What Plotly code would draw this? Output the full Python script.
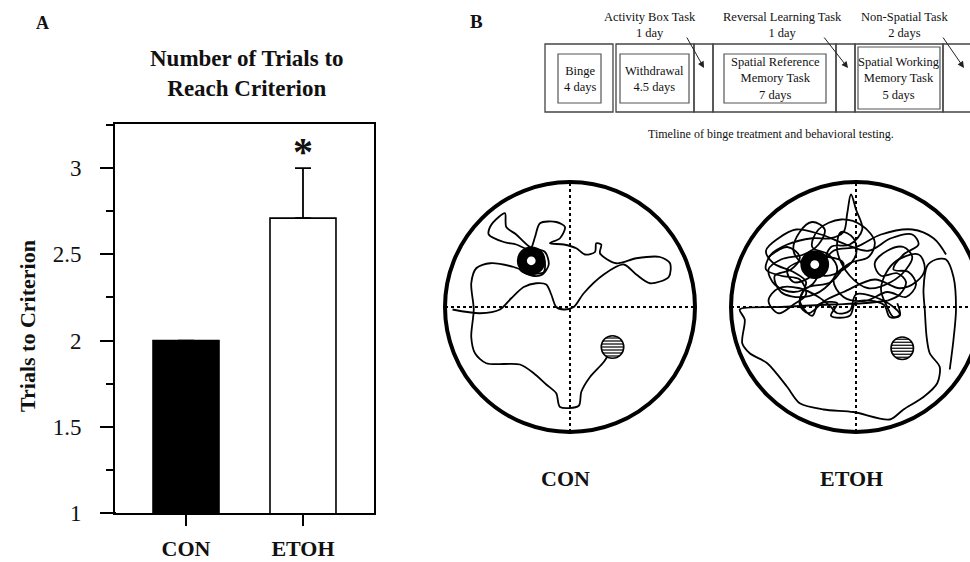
import math
import plotly.graph_objects as go

W, H = 970, 562          # reference picture size (pixel space used below)
SERIF = "Liberation Serif"
INK = "#111111"


def dx(px):
    return px / W


def dy(py):
    return (H - py) / H


# ---------------- Panel A data ----------------
groups = ["CON", "ETOH"]
trials = [2.0, 2.71]
sem_up = [0.0, 0.29]
y_ticks = [1, 1.5, 2, 2.5, 3]
y_tick_text = ["1", "1.5", "2", "2.5", "3"]

# ---------------- Panel B: timeline ----------------
tl_outer_x0 = [545, 616, 694, 713, 836, 855, 943]
tl_outer_x1 = [613, 694, 713, 836, 855, 943, 1000]
tl_inner_x0 = [558, 620, 724, 858]
tl_inner_x1 = [601, 689, 826, 940]
tl_inner_text = ["Binge<br>4 days", "Withdrawal<br>4.5 days",
                 "Spatial Reference<br>Memory Task<br>7 days",
                 "Spatial Working<br>Memory Task<br>5 days"]
tl_top_text = ["Activity Box Task<br>1 day", "Reversal Learning Task<br>1 day",
               "Non-Spatial Task<br>2 days"]
tl_top_x = [650, 782, 904]
arrow_tail_x = [686, 823, 942]
arrow_head_x = [704, 848, 964]

# ---------------- Panel B: swim paths (pool units, radius = 1) ----------------
con_path_u = [-0.94, -0.72, -0.56, -0.47, -0.37, -0.27, -0.19, -0.15, -0.11, -0.05, 0.03, 0.11,
              0.27, 0.43, 0.53, 0.64, 0.79, 0.80, 0.72, 0.53, 0.37, 0.24, 0.25, 0.21, 0.20,
              0.12, 0.05, -0.05, -0.16, -0.08, -0.04, -0.11, -0.24, -0.28, -0.32, -0.43,
              -0.53, -0.65, -0.64, -0.57, -0.52, -0.51, -0.43, -0.32, -0.20, -0.17, -0.22,
              -0.30, -0.40, -0.21, -0.21, -0.32, -0.45, -0.64, -0.75, -0.79, -0.77, -0.79,
              -0.76, -0.67, -0.40, -0.29, -0.19, -0.11, -0.08, 0.07, 0.09, 0.16, 0.27, 0.32]
con_path_v = [-0.02, -0.05, -0.02, 0.07, 0.16, 0.19, 0.18, 0.10, 0.00, -0.02, 0.00, 0.11,
              0.26, 0.34, 0.26, 0.19, 0.24, 0.35, 0.40, 0.39, 0.35, 0.43, 0.50, 0.51, 0.44,
              0.42, 0.47, 0.50, 0.51, 0.55, 0.64, 0.68, 0.67, 0.56, 0.46, 0.50,
              0.52, 0.58, 0.64, 0.72, 0.75, 0.64, 0.58, 0.48, 0.44, 0.34, 0.26,
              0.25, 0.30, 0.38, 0.28, 0.27, 0.32, 0.35, 0.31, 0.19, -0.02, -0.24,
              -0.37, -0.45, -0.46, -0.53, -0.62, -0.69, -0.80, -0.79, -0.68, -0.56, -0.44, -0.36]

etoh_outer_u = [0.75, 0.78, 0.80, 0.78, 0.72, 0.64, 0.57, 0.54, 0.55, 0.565, 0.59, 0.67, 0.65,
                0.54, 0.38, 0.27, -0.02, -0.26, -0.45, -0.55, -0.71, -0.85, -0.91, -0.89,
                -0.93, -0.60, -0.20, 0.05, 0.25]
etoh_outer_v = [-0.50, -0.26, -0.02, 0.24, 0.38, 0.38, 0.33, 0.14, -0.02, -0.24, -0.37, -0.48,
                -0.61, -0.72, -0.82, -0.90, -0.84, -0.82, -0.77, -0.64, -0.45, -0.37, -0.29,
                -0.10, -0.02, 0.00, 0.02, 0.03, 0.05]
etoh_tangle_u = [0.25, 0.35, 0.40, 0.33, 0.20, 0.15, 0.25, 0.38, 0.45, 0.40, 0.28, 0.10, -0.05,
                 -0.15, -0.12, -0.02, 0.00, -0.10, -0.25, -0.40, -0.50, -0.45, -0.35, -0.25,
                 -0.30, -0.42, -0.60, -0.70, -0.65, -0.50, -0.35, -0.28, -0.20, -0.05, 0.05,
                 0.00, -0.04, -0.07, -0.10, -0.20, -0.35, -0.55, -0.68, -0.72, -0.60, -0.45,
                 -0.40, -0.50, -0.62, -0.70, -0.62, -0.45, -0.30, -0.20, -0.15, -0.05, 0.00,
                 0.15, 0.30, 0.35, 0.30, 0.25, 0.20, 0.30, 0.50, 0.55, 0.48, 0.35, 0.15,
                 -0.10, -0.25, -0.38, -0.45, -0.40, -0.20, -0.10, -0.22, -0.40, -0.55, -0.50,
                 -0.35, -0.18, 0.00, 0.20, 0.45, 0.62, 0.72]
etoh_tangle_v = [0.05, 0.10, 0.20, 0.27, 0.25, 0.35, 0.45, 0.48, 0.40, 0.30, 0.20, 0.15, 0.25,
                 0.45, 0.60, 0.55, 0.42, 0.30, 0.25, 0.32, 0.45, 0.60, 0.68, 0.62,
                 0.50, 0.42, 0.38, 0.30, 0.18, 0.12, 0.18, 0.30, 0.48, 0.50, 0.62,
                 0.78, 0.90, 0.75, 0.60, 0.55, 0.55, 0.50, 0.42, 0.30, 0.25, 0.22,
                 0.10, 0.02, -0.05, 0.05, 0.15, 0.15, 0.08, 0.00, -0.05, -0.03, 0.10,
                 0.08, 0.00, -0.06, -0.08, 0.00, 0.15, 0.35, 0.42, 0.30, 0.20, 0.15, 0.22,
                 0.12, 0.05, -0.05, 0.02, 0.15, 0.20, 0.35, 0.40, 0.38, 0.30, 0.20,
                 0.25, 0.45, 0.48, 0.58, 0.62, 0.55, 0.42]
etoh_tangle2_u = [-0.70, -0.55, -0.45, -0.52, -0.65, -0.60, -0.42, -0.25, -0.15, -0.22, -0.35,
                  -0.30, -0.12, 0.05, 0.15, 0.10, -0.05, -0.18, -0.10, 0.08, 0.25, 0.40, 0.48,
                  0.42, 0.30, 0.38, 0.50, 0.45, 0.28, 0.10, -0.08, -0.28, -0.48, -0.62, -0.72,
                  -0.66, -0.50, -0.40, -0.45, -0.35, -0.30, -0.15, -0.20, -0.05, 0.00, 0.22,
                  0.27, 0.35, 0.33]
etoh_tangle2_v = [0.40, 0.48, 0.40, 0.30, 0.25, 0.12, 0.08, 0.15, 0.30, 0.42, 0.48,
                  0.62, 0.70, 0.65, 0.52, 0.40, 0.35, 0.22, 0.08, 0.05, 0.12, 0.08, 0.18,
                  0.28, 0.30, 0.42, 0.50, 0.58, 0.55, 0.45, 0.50, 0.58, 0.62, 0.55, 0.45,
                  0.35, 0.28, 0.20, 0.05, -0.07, 0.02, 0.03, -0.07, -0.07, 0.04, 0.02,
                  -0.08, -0.07, 0.03]

# landmark positions (pool units)
con_goal = (-0.31, 0.37)
con_old = (0.34, -0.32)
etoh_goal = (-0.33, 0.34)
etoh_old = (0.37, -0.33)

POOL_R = 125
POOL_CY = 307
pools = [
    dict(name="CON", cx=570, xa="x3", ya="y3", right=1.04, goal=con_goal, old=con_old,
         paths=[(con_path_u, con_path_v, 0.8)]),
    dict(name="ETOH", cx=856, xa="x4", ya="y4", right=(W - 856) / POOL_R, goal=etoh_goal, old=etoh_old,
         paths=[(etoh_outer_u, etoh_outer_v, 0.8), (etoh_tangle_u, etoh_tangle_v, 1.0),
                (etoh_tangle2_u, etoh_tangle2_v, 1.0)]),
]

fig = go.Figure()

# ---- bar chart ----
fig.add_trace(go.Bar(
    x=groups, y=trials, width=0.564,
    marker=dict(color=["black", "white"], line=dict(color="black", width=1.6)),
    error_y=dict(type="data", symmetric=False, array=sem_up, arrayminus=[0, 0],
                 color="black", thickness=1.8, width=8),
    xaxis="x", yaxis="y", hoverinfo="skip",
))

# dummy trace for pixel overlay axes
fig.add_trace(go.Scatter(x=[100], y=[100], mode="markers", marker=dict(opacity=0),
                         xaxis="x2", yaxis="y2", hoverinfo="skip"))

shapes = []
annotations = []

# ---- pools ----
for p in pools:
    xa, ya = p["xa"], p["ya"]
    for pu, pv, sm in p["paths"]:
        fig.add_trace(go.Scatter(x=pu, y=pv, mode="lines",
                                 line=dict(color="black", width=1.8, shape="spline", smoothing=sm),
                                 xaxis=xa, yaxis=ya, hoverinfo="skip"))
    shapes.append(dict(type="circle", xref=xa, yref=ya, x0=-1, y0=-1, x1=1, y1=1,
                       line=dict(color="black", width=4)))
    shapes.append(dict(type="line", xref=xa, yref=ya, x0=-1, y0=0, x1=min(1, p["right"]), y1=0,
                       line=dict(color="black", width=2, dash="dot")))
    shapes.append(dict(type="line", xref=xa, yref=ya, x0=0, y0=-1, x1=0, y1=1,
                       line=dict(color="black", width=2, dash="dot")))
    gx, gy = p["goal"]
    shapes.append(dict(type="circle", xref=xa, yref=ya, x0=gx - 0.115, y0=gy - 0.115,
                       x1=gx + 0.115, y1=gy + 0.115, fillcolor="black", line=dict(width=0)))
    shapes.append(dict(type="circle", xref=xa, yref=ya, x0=gx - 0.035, y0=gy - 0.035,
                       x1=gx + 0.035, y1=gy + 0.035, fillcolor="white", line=dict(width=0)))
    ox, oy = p["old"]
    rs = 0.09
    shapes.append(dict(type="circle", xref=xa, yref=ya, x0=ox - rs, y0=oy - rs,
                       x1=ox + rs, y1=oy + rs, fillcolor="white", line=dict(color="black", width=1.6)))
    for k in range(-3, 4):
        ddy = k * 0.024
        half = math.sqrt(max(rs * rs - ddy * ddy, 0))
        if half > 0.02:
            shapes.append(dict(type="line", xref=xa, yref=ya, x0=ox - half, x1=ox + half,
                               y0=oy + ddy, y1=oy + ddy, line=dict(color="black", width=1.2)))
    annotations.append(dict(xref="x2", yref="y2", x=p["cx"] - 5, y=478, text="<b>%s</b>" % p["name"],
                            showarrow=False, font=dict(family=SERIF, size=22, color=INK)))

# ---- timeline ----
for x0, x1 in zip(tl_outer_x0, tl_outer_x1):
    shapes.append(dict(type="rect", xref="x2", yref="y2", x0=x0, x1=x1, y0=44, y1=112,
                       line=dict(color="#444", width=1.3)))
for i, (x0, x1) in enumerate(zip(tl_inner_x0, tl_inner_x1)):
    if i < 3:
        y0, y1 = 54, 103
    else:
        y0, y1 = 47, 109
    shapes.append(dict(type="rect", xref="x2", yref="y2", x0=x0, x1=x1, y0=y0, y1=y1,
                       line=dict(color="#555", width=1.2)))
    annotations.append(dict(xref="x2", yref="y2", x=(x0 + x1) / 2, y=(y0 + y1) / 2,
                            text=tl_inner_text[i], showarrow=False,
                            font=dict(family=SERIF, size=12.5, color=INK)))
for t, x in zip(tl_top_text, tl_top_x):
    annotations.append(dict(xref="x2", yref="y2", x=x, y=25, text=t, showarrow=False,
                            font=dict(family=SERIF, size=12.5, color=INK)))
for xt, xh in zip(arrow_tail_x, arrow_head_x):
    annotations.append(dict(xref="x2", yref="y2", x=xh, y=68, ax=xt, ay=36,
                            axref="x2", ayref="y2", text="", showarrow=True,
                            arrowhead=2, arrowsize=1.3, arrowwidth=1, arrowcolor="#222"))
annotations.append(dict(xref="x2", yref="y2", x=771, y=134,
                        text="Timeline of binge treatment and behavioral testing.",
                        showarrow=False, font=dict(family=SERIF, size=12, color=INK)))

# ---- panel letters & panel A texts ----
annotations.append(dict(xref="x2", yref="y2", x=42, y=23, text="<b>A</b>", showarrow=False,
                        font=dict(family=SERIF, size=18, color=INK)))
annotations.append(dict(xref="x2", yref="y2", x=476, y=21, text="<b>B</b>", showarrow=False,
                        font=dict(family=SERIF, size=19, color=INK)))
annotations.append(dict(xref="x2", yref="y2", x=247, y=73,
                        text="<b>Number of Trials to<br>Reach Criterion</b>", showarrow=False,
                        font=dict(family=SERIF, size=23, color=INK)))
annotations.append(dict(xref="x2", yref="y2", x=27, y=326, text="<b>Trials to Criterion</b>",
                        textangle=-90, showarrow=False,
                        font=dict(family=SERIF, size=22, color=INK)))
annotations.append(dict(xref="x", yref="y", x=groups[1], y=trials[1] + sem_up[1], text="<b>*</b>",
                        showarrow=False, yshift=17, yanchor="middle",
                        font=dict(family=SERIF, size=40, color=INK)))

A_LEFT, A_RIGHT, A_TOP, A_BOTTOM = 115, 374, 124, 513
shapes.append(dict(type="line", xref="x2", yref="y2", x0=102, x1=A_LEFT + 1, y0=A_BOTTOM, y1=A_BOTTOM,
                   line=dict(color="black", width=2)))

fig.update_layout(
    template="none",
    width=W, height=H, margin=dict(l=0, r=0, t=0, b=0, pad=0, autoexpand=False),
    paper_bgcolor="white", plot_bgcolor="rgba(0,0,0,0)", showlegend=False,
    shapes=shapes, annotations=annotations,
    xaxis=dict(domain=[dx(A_LEFT), dx(A_RIGHT)], range=[-0.607, 1.607], type="category",
               showline=True, linecolor="black", linewidth=2, mirror=True, automargin=False,
               ticks="outside", ticklen=11, tickwidth=2, tickcolor="black",
               showgrid=False, zeroline=False, ticklabelstandoff=4,
               tickfont=dict(family=SERIF, size=22, color=INK, weight="bold"),
               anchor="y"),
    yaxis=dict(domain=[dy(A_BOTTOM), dy(A_TOP)], range=[1, 3.256],
               tickvals=y_ticks, ticktext=y_tick_text, automargin=False,
               showline=True, linecolor="black", linewidth=2, mirror=True,
               ticks="outside", ticklen=13, tickwidth=2, tickcolor="black",
               minor=dict(dtick=0.25, tick0=1, ticks="outside", ticklen=7, tickwidth=2, tickcolor="black"),
               showgrid=False, zeroline=False, ticklabelstandoff=14,
               tickfont=dict(family=SERIF, size=23, color=INK), anchor="x"),
    xaxis2=dict(domain=[0, 1], range=[0, W], visible=False, anchor="y2", automargin=False),
    yaxis2=dict(domain=[0, 1], range=[H, 0], visible=False, anchor="x2", automargin=False),
    xaxis3=dict(domain=[dx(570 - 130), dx(570 + 130)], range=[-1.04, 1.04], visible=False,
                anchor="y3", automargin=False),
    yaxis3=dict(domain=[dy(POOL_CY + 130), dy(POOL_CY - 130)], range=[-1.04, 1.04], visible=False,
                anchor="x3", automargin=False),
    xaxis4=dict(domain=[dx(856 - 130), 1.0], range=[-1.04, (W - 856) / POOL_R], visible=False,
                anchor="y4", automargin=False),
    yaxis4=dict(domain=[dy(POOL_CY + 130), dy(POOL_CY - 130)], range=[-1.04, 1.04], visible=False,
                anchor="x4", automargin=False),
)

fig.write_html("out.html", config={"displayModeBar": False, "staticPlot": True},
               post_script="document.body.style.margin='0px';document.body.style.overflow='hidden';")
